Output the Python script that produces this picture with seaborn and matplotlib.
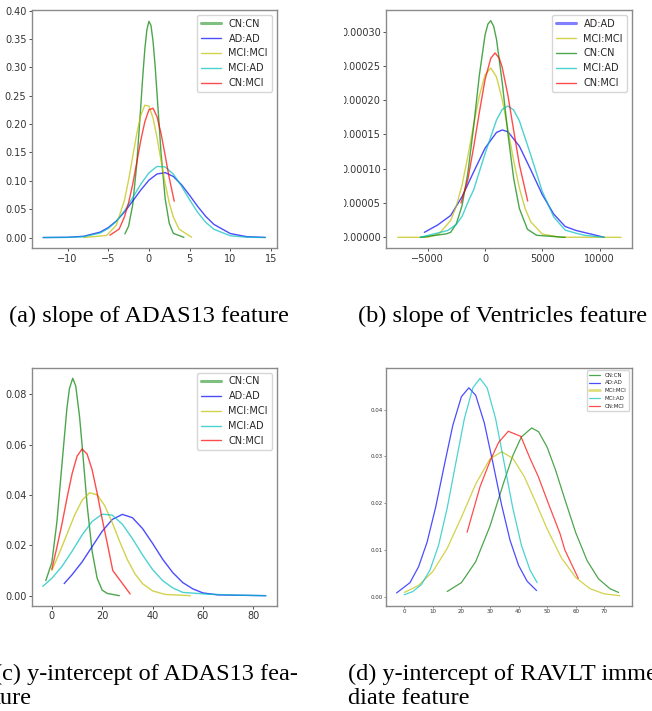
import matplotlib
matplotlib.use("Agg")
import matplotlib.pyplot as plt
import seaborn as sns
from matplotlib.transforms import Bbox, TransformedBbox

# --- data ---
# (a) slope of ADAS13
a_cn_x = [-2.95, -2.5, -2.0, -1.5, -1.0, -0.75, -0.5, -0.25, 0.0, 0.25, 0.5, 0.75, 1.0, 1.5, 2.0, 2.5, 3.0, 4.3]
a_cn_y = [0.0064, 0.0199, 0.0567, 0.128, 0.231, 0.285, 0.332, 0.366, 0.381, 0.374, 0.347, 0.305, 0.253, 0.147, 0.068, 0.025, 0.0073, 0.0003]
a_ad_x = [-13, -10, -8, -6, -5, -4, -3, -2, -1, 0, 1, 2, 3, 4, 5, 6, 7, 8, 10, 12, 14.3]
a_ad_y = [0.0, 0.0004, 0.0022, 0.0095, 0.0174, 0.0291, 0.045, 0.064, 0.0837, 0.101, 0.112, 0.1144, 0.1076,
          0.0932, 0.0744, 0.0546, 0.0369, 0.0230, 0.0070, 0.0015, 0.0002]
a_mci_x = [-8, -5.2, -4, -3, -2.5, -2, -1.5, -1, -0.5, 0, 0.5, 1, 1.5, 2, 2.5, 3, 3.7, 5.25]
a_mci_y = [0.0, 0.0036, 0.0217, 0.066, 0.101, 0.1417, 0.1824, 0.2154, 0.2332, 0.2316, 0.211, 0.176, 0.135,
           0.0948, 0.061, 0.0361, 0.0149, 0.0005]
a_mciad_x = [-13, -10, -8, -6, -5, -4, -3, -2, -1, 0, 1, 2, 3, 4, 5, 6, 7, 8, 10, 12, 14.3]
a_mciad_y = [0.0, 0.0002, 0.0014, 0.0078, 0.0158, 0.0286, 0.047, 0.070, 0.094, 0.114, 0.1253, 0.1244, 0.1117,
             0.0907, 0.0666, 0.0442, 0.0265, 0.0144, 0.0031, 0.0005, 0.0]
a_cnmci_x = [-4.8, -3.65, -3, -2.5, -2, -1.5, -1, -0.5, 0, 0.5, 1, 1.5, 2, 2.5, 3.11]
a_cnmci_y = [0.004, 0.015, 0.0367, 0.061, 0.0934, 0.1317, 0.171, 0.204, 0.225, 0.228, 0.2127, 0.1827, 0.1445, 0.105, 0.064]

# (b) slope of Ventricles
b_ad_x = [-5300, -4135, -3000, -2000, -1000, 0, 1000, 1500, 2000, 3000, 4000, 5000, 6000, 7000, 7950, 10425]
b_ad_y = [0.73e-5, 1.8e-5, 3.19e-5, 5.95e-5, 9.52e-5, 13.0e-5, 15.3e-5, 15.66e-5, 15.4e-5, 13.3e-5, 9.83e-5,
          6.23e-5, 3.39e-5, 1.58e-5, 1.0e-5, 0.0]
b_mci_x = [-7630, -5000, -4000, -3000, -2500, -2000, -1500, -1000, -500, 0, 500, 1000, 1500, 2000, 2500, 3000,
           3500, 4000, 5000, 6500, 11880]
b_mci_y = [0.0, 0.01e-5, 0.54e-5, 2.47e-5, 4.57e-5, 7.7e-5, 11.8e-5, 16.4e-5, 20.6e-5, 23.7e-5, 24.7e-5, 23.4e-5,
           20.1e-5, 15.7e-5, 11.2e-5, 7.2e-5, 4.2e-5, 2.25e-5, 0.48e-5, 0.02e-5, 0.0]
b_cn_x = [-5650, -3400, -3000, -2500, -2000, -1500, -1000, -500, 0, 250, 500, 750, 1000, 1500, 2000, 2500, 3000,
          3700, 4500, 7000]
b_cn_y = [0.0, 0.5e-5, 0.73e-5, 2.0e-5, 4.68e-5, 9.39e-5, 16.1e-5, 23.6e-5, 29.5e-5, 31.1e-5, 31.6e-5, 30.8e-5,
          28.9e-5, 22.6e-5, 15.1e-5, 8.6e-5, 4.2e-5, 1.18e-5, 0.3e-5, 0.0]
b_mciad_x = [-5650, -3260, -2500, -2000, -1369, -1000, 0, 1000, 1500, 2000, 2500, 3000, 4000, 5000, 6000, 7000,
             7950, 8680, 10425]
b_mciad_y = [0.0, 1.0e-5, 1.89e-5, 3.08e-5, 5.6e-5, 6.9e-5, 12.2e-5, 17.1e-5, 18.66e-5, 19.16e-5, 18.57e-5,
             17.0e-5, 11.97e-5, 6.69e-5, 2.97e-5, 1.05e-5, 0.6e-5, 0.3e-5, 0.0]
b_cnmci_x = [-2100, -1500, -1000, -500, 0, 500, 874, 1250, 1500, 2000, 2500, 3000, 3727]
b_cnmci_y = [5.0e-5, 8.45e-5, 13.1e-5, 18.2e-5, 23.0e-5, 26.1e-5, 26.9e-5, 26.1e-5, 24.8e-5, 20.7e-5, 15.6e-5,
             10.6e-5, 5.3e-5]

# (c) y-intercept of ADAS13
c_cn_x = [-2.4, 0, 2, 4, 6, 7, 8.3, 9.5, 11, 12, 14, 16, 18, 20, 22, 26.8]
c_cn_y = [0.006, 0.0132, 0.0292, 0.052, 0.0746, 0.0824, 0.0864, 0.0833, 0.0712, 0.060, 0.0362, 0.0176, 0.0069,
          0.0022, 0.0009, 0.0]
c_ad_x = [4.9, 8, 12, 16, 20, 24, 28, 32, 36, 40, 44, 48, 52, 56, 60, 66, 85]
c_ad_y = [0.0048, 0.0083, 0.0134, 0.0195, 0.0256, 0.0303, 0.0323, 0.0310, 0.0267, 0.0208, 0.0145, 0.0092,
          0.0052, 0.0027, 0.0011, 0.0003, 0.0]
c_mci_x = [0, 3, 6, 9, 12, 15, 18, 21, 24, 27, 30, 33, 36, 40, 45, 55]
c_mci_y = [0.0100, 0.0170, 0.0244, 0.0319, 0.0379, 0.0409, 0.0401, 0.0358, 0.0290, 0.0214, 0.0143, 0.0087,
           0.0048, 0.0019, 0.0005, 0.0]
c_mciad_x = [-3.6, 0, 4, 8, 12, 16, 20, 24, 28, 32, 36, 40, 44, 48, 52, 62, 75, 84.9]
c_mciad_y = [0.0037, 0.0069, 0.0116, 0.0176, 0.0241, 0.0295, 0.0324, 0.0320, 0.0284, 0.0227, 0.0162, 0.0104,
             0.0060, 0.0031, 0.0013, 0.0006, 0.0002, 0.0]
c_cnmci_x = [0, 2, 4, 6, 8, 10, 12, 14, 16, 18, 20, 22, 24.2, 31.1]
c_cnmci_y = [0.0105, 0.0192, 0.0284, 0.0387, 0.0483, 0.0554, 0.0583, 0.0563, 0.0500, 0.0407, 0.0304, 0.0209,
             0.0100, 0.0007]

# (d) y-intercept of RAVLT immediate
d_cn_x = [15, 20, 25, 30, 35, 38, 41, 44.6, 47, 50, 53, 56, 60, 64, 68, 72, 75]
d_cn_y = [0.0011, 0.0030, 0.0075, 0.0151, 0.0248, 0.0302, 0.0342, 0.0361, 0.0353, 0.0320, 0.0270, 0.0212,
          0.0137, 0.0077, 0.0038, 0.0017, 0.0009]
d_ad_x = [-2.7, 2.0, 5, 8, 11, 14, 17, 20, 22.6, 25, 28, 31, 34, 37, 40, 43, 46.3]
d_ad_y = [0.0008, 0.0030, 0.0064, 0.0117, 0.0192, 0.0281, 0.0367, 0.0428, 0.0447, 0.0431, 0.0372, 0.0287,
          0.0198, 0.0121, 0.0067, 0.0033, 0.0013]
d_mci_x = [0, 5, 10, 15, 20, 25, 30, 34.1, 38, 42, 46, 50, 55, 60, 65, 70, 75.5]
d_mci_y = [0.0009, 0.0024, 0.0054, 0.0103, 0.0170, 0.0241, 0.0295, 0.0310, 0.0296, 0.0257, 0.0202, 0.0145,
           0.0083, 0.0041, 0.0017, 0.0006, 0.0002]
d_mciad_x = [0, 3, 6, 9, 12, 15, 18, 21, 24, 26.5, 29, 32, 35, 38, 41, 44, 46.5]
d_mciad_y = [0.0004, 0.0011, 0.0026, 0.0057, 0.0110, 0.0189, 0.0285, 0.0380, 0.0447, 0.0467, 0.0447, 0.0380,
             0.0285, 0.0189, 0.0110, 0.0057, 0.0030]
d_cnmci_x = [22.0, 26.5, 30.0, 33.0, 36.4, 40.8, 44.0, 46.9, 50.4, 54.5, 56.2, 60.9]
d_cnmci_y = [0.0138, 0.0235, 0.0290, 0.0330, 0.0354, 0.0343, 0.0296, 0.0257, 0.0200, 0.0135, 0.0100, 0.0039]

# plain matplotlib "g b y c r" colours (seaborn remaps the letter codes)
colors = {'CN:CN': (0.0, 0.5, 0.0), 'AD:AD': (0.0, 0.0, 1.0), 'MCI:MCI': (0.75, 0.75, 0.0),
          'MCI:AD': (0.0, 0.75, 0.75), 'CN:MCI': (1.0, 0.0, 0.0)}

# --- figure ---
sns.set_theme(style="ticks")
plt.rcParams['font.family'] = ['DejaVu Sans']

W, H = 652, 711
fig = plt.figure(figsize=(W / 100, H / 100), dpi=100)


def px_axes(x0, y0, x1, y1):
    return fig.add_axes([x0 / W, 1 - y1 / H, (x1 - x0) / W, (y1 - y0) / H])


def draw_panel(ax, curves, thick, fs, lw, tlen):
    for label, xs, ys in curves:
        sns.lineplot(x=xs, y=ys, color=colors[label], alpha=0.7, lw=lw, label=label,
                     estimator=None, errorbar=None, ax=ax)
    leg = ax.legend(loc='upper right', fontsize=fs, frameon=True)
    for line, text in zip(leg.get_lines(), leg.get_texts()):
        if text.get_text() == thick:
            line.set_linewidth(lw * 2.2)
            line.set_alpha(0.5)
    for sp in ax.spines.values():
        sp.set_color('#8a8a8a')
        sp.set_linewidth(1.0)
    ax.tick_params(labelsize=fs, length=tlen, width=0.6, pad=1.6, colors='#333333')
    ax.set_xlabel('')
    ax.set_ylabel('')


# (a)
axa = px_axes(31.7, 10, 276.7, 248.3)
draw_panel(axa, [('CN:CN', a_cn_x, a_cn_y), ('AD:AD', a_ad_x, a_ad_y), ('MCI:MCI', a_mci_x, a_mci_y),
                 ('MCI:AD', a_mciad_x, a_mciad_y), ('CN:MCI', a_cnmci_x, a_cnmci_y)],
           'CN:CN', 7, 1.0, 2.2)
axa.set_xlim(-14.4, 15.7)
axa.set_ylim(-0.019, 0.401)
axa.set_xticks([-10, -5, 0, 5, 10, 15])
axa.set_yticks([0.0, 0.05, 0.10, 0.15, 0.20, 0.25, 0.30, 0.35, 0.40])
axa.set_yticklabels(['0.00', '0.05', '0.10', '0.15', '0.20', '0.25', '0.30', '0.35', '0.40'])

# (b)
axb = px_axes(386, 10, 631.7, 248.3)
draw_panel(axb, [('AD:AD', b_ad_x, b_ad_y), ('MCI:MCI', b_mci_x, b_mci_y), ('CN:CN', b_cn_x, b_cn_y),
                 ('MCI:AD', b_mciad_x, b_mciad_y), ('CN:MCI', b_cnmci_x, b_cnmci_y)],
           'AD:AD', 7, 1.0, 2.2)
axb.set_xlim(-8650, 12810)
axb.set_ylim(-1.6e-5, 3.316e-4)
axb.set_xticks([-5000, 0, 5000, 10000])
b_yt = [0.0, 0.00005, 0.0001, 0.00015, 0.0002, 0.00025, 0.0003]
axb.set_yticks(b_yt)
axb.set_yticklabels(['%.5f' % v for v in b_yt])
# the source picture is cropped just left of these labels
clip = TransformedBbox(Bbox.from_extents(343.5 / W, 0, 1, 1), fig.transFigure)
for t in axb.yaxis.get_major_ticks():
    t.label1.set_clip_on(True)
    t.label1.set_clip_box(clip)

# (c)
axc = px_axes(31.7, 367.7, 276.7, 606)
draw_panel(axc, [('CN:CN', c_cn_x, c_cn_y), ('AD:AD', c_ad_x, c_ad_y), ('MCI:MCI', c_mci_x, c_mci_y),
                 ('MCI:AD', c_mciad_x, c_mciad_y), ('CN:MCI', c_cnmci_x, c_cnmci_y)],
           'CN:CN', 7, 1.0, 2.2)
axc.set_xlim(-8.0, 89.3)
axc.set_ylim(-0.0041, 0.0906)
axc.set_xticks([0, 20, 40, 60, 80])
axc.set_yticks([0.0, 0.02, 0.04, 0.06, 0.08])
axc.set_yticklabels(['0.00', '0.02', '0.04', '0.06', '0.08'])

# (d)
axd = px_axes(386, 367.7, 631.7, 606)
draw_panel(axd, [('CN:CN', d_cn_x, d_cn_y), ('AD:AD', d_ad_x, d_ad_y), ('MCI:MCI', d_mci_x, d_mci_y),
                 ('MCI:AD', d_mciad_x, d_mciad_y), ('CN:MCI', d_cnmci_x, d_cnmci_y)],
           'MCI:MCI', 4, 0.9, 1.3)
axd.tick_params(pad=1.0, width=0.4)
axd.set_xlim(-6.4, 79.6)
axd.set_ylim(-0.002, 0.049)
axd.set_xticks([0, 10, 20, 30, 40, 50, 60, 70])
axd.set_yticks([0.0, 0.01, 0.02, 0.03, 0.04])
axd.set_yticklabels(['0.00', '0.01', '0.02', '0.03', '0.04'])

# --- captions ---
cap = dict(family=['Liberation Serif', 'DejaVu Serif'], fontsize=17.5, va='baseline', color='black')
fig.text(149 / W, 1 - 321.7 / H, '(a) slope of ADAS13 feature', ha='center', **cap)
fig.text(503 / W, 1 - 321.7 / H, '(b) slope of Ventricles feature', ha='center', **cap)
fig.text(-6.4 / W, 1 - 680 / H, '(c) y-intercept of ADAS13 fea-', ha='left', **cap)
fig.text(-6.4 / W, 1 - 704 / H, 'ture', ha='left', **cap)
fig.text(347.7 / W, 1 - 680 / H, '(d) y-intercept of RAVLT imme-', ha='left', **cap)
fig.text(347.7 / W, 1 - 704 / H, 'diate feature', ha='left', **cap)

fig.savefig('out.png', dpi=100)
